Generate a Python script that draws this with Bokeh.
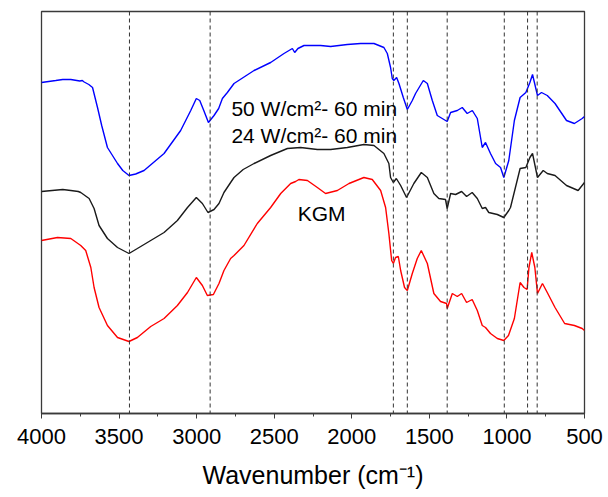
from bokeh.plotting import figure
from bokeh.models import Range1d, SingleIntervalTicker, Span, Label
from bokeh.embed import file_html
from bokeh.resources import INLINE

# FTIR spectra (transmittance, arbitrary units, curves offset)
wn_50w = [4000, 3908, 3863, 3811, 3753, 3737, 3725, 3695, 3671, 3639, 3612, 3575, 3510, 3476,
          3436, 3393, 3339, 3210, 3103, 3038, 3002, 2980, 2954, 2924, 2888, 2858, 2834, 2802,
          2759, 2630, 2523, 2437, 2383, 2368, 2347, 2308, 2201, 2136, 2029, 1943, 1857, 1793,
          1771, 1750, 1739, 1729, 1711, 1696, 1668, 1642, 1610, 1589, 1539, 1513, 1481, 1449,
          1417, 1385, 1363, 1320, 1288, 1256, 1223, 1191, 1159, 1138, 1106, 1073, 1041, 1020,
          988, 952, 915, 878, 852, 835, 803, 777, 740, 690, 616, 565, 515, 500]
t_50w = [331, 333, 334, 334, 332.5, 333, 331.5, 329, 326, 306, 288, 266, 250, 243,
         238, 239.5, 243, 260, 283, 303, 315, 313, 303, 291, 298, 305, 315, 321,
         330, 343, 351, 360, 365, 361, 365, 368, 368, 367, 369, 370, 370, 366,
         360, 346, 335, 333, 336, 330, 316, 304, 313, 320, 333, 330, 313, 298,
         295, 292, 301, 303, 306, 300, 303, 295, 266, 271, 260, 250, 246, 236,
         253, 293, 316, 321, 331, 339, 318, 321, 318, 310, 293, 290, 295, 297]

wn_24w = [4000, 3863, 3811, 3763, 3747, 3693, 3661, 3629, 3575, 3510, 3436, 3382, 3296, 3210,
          3124, 3059, 3002, 2963, 2927, 2888, 2856, 2824, 2781, 2759, 2700, 2630, 2523, 2415, 2330,
          2222, 2136, 2029, 1922, 1857, 1793, 1761, 1750, 1732, 1713, 1685, 1647, 1600, 1552,
          1513, 1471, 1439, 1396, 1385, 1363, 1331, 1292, 1260, 1224, 1191, 1159, 1138, 1117,
          1062, 1020, 988, 977, 915, 878, 852, 835, 803, 766, 740, 690, 616, 541, 500]
t_24w = [222, 224, 223, 222, 221, 215, 205, 188, 175, 166, 160, 165, 173, 181,
         193, 206, 216, 210, 201, 204, 210, 221, 231, 236, 244, 250, 258, 265, 266,
         264, 264, 266, 269, 268, 260, 250, 236, 231, 235, 228, 216, 230, 241,
         236, 220, 215, 214, 205, 220, 219, 222, 217, 221, 215, 205, 206, 201,
         199, 196, 203, 206, 245, 246, 256, 260, 236, 243, 240, 238, 228, 223, 231]

wn_kgm = [4000, 3897, 3811, 3747, 3715, 3682, 3661, 3629, 3575, 3510, 3436, 3382, 3296, 3210,
          3124, 3059, 3002, 2963, 2931, 2892, 2856, 2824, 2781, 2759, 2695, 2609, 2523, 2458,
          2394, 2362, 2341, 2286, 2222, 2169, 2093, 2018, 1922, 1868, 1814, 1782, 1761, 1743,
          1732, 1718, 1700, 1685, 1660, 1642, 1610, 1578, 1552, 1513, 1471, 1428, 1389, 1385,
          1352, 1320, 1292, 1260, 1224, 1191, 1159, 1138, 1106, 1062, 1020, 990, 952, 915,
          890, 870, 858, 840, 820, 803, 771, 740, 690, 628, 565, 515, 500]
t_kgm = [173, 176, 175, 168, 163, 146, 126, 106, 88, 76, 72, 76, 87, 95,
         108, 121, 136, 128, 118, 119, 130, 143, 155, 158, 168, 190, 206, 220,
         230, 232, 234, 233, 226, 220, 223, 230, 236, 234, 223, 206, 180, 153,
         150, 156, 157, 143, 126, 123, 140, 155, 163, 150, 120, 112, 110, 105,
         120, 117, 120, 111, 114, 103, 88, 86, 80, 75, 73, 78, 95, 131,
         126, 124, 146, 161, 146, 120, 130, 121, 106, 90, 88, 85, 83]

peak_positions = [3433, 2913, 1732, 1642, 1385, 1017, 867, 805]

series_labels = ["50 W/cm\u00b2- 60 min", "24 W/cm\u00b2- 60 min", "KGM"]

FONT = "Liberation Sans"

p = figure(width=608, height=497, title=None,
           x_range=Range1d(4000, 500), y_range=Range1d(0, 402),
           output_backend="svg", toolbar_location=None,
           min_border_left=41, min_border_right=24, min_border_top=11, min_border_bottom=84)

p.xgrid.visible = False
p.ygrid.visible = False
p.yaxis.visible = False
p.outline_line_color = "#3a3a3a"
p.outline_line_width = 1.3
p.outline_line_alpha = 1.0
p.background_fill_color = "white"
p.border_fill_color = "white"

ax = p.xaxis[0]
ax.ticker = SingleIntervalTicker(interval=500, num_minor_ticks=2)
ax.axis_line_color = "#3a3a3a"
ax.axis_line_width = 1.3
ax.major_tick_in = 0
ax.major_tick_out = 5
ax.minor_tick_in = 0
ax.minor_tick_out = 3
ax.major_tick_line_color = "#3a3a3a"
ax.minor_tick_line_color = "#3a3a3a"
ax.major_label_text_font = FONT
ax.major_label_text_font_size = "22px"
ax.major_label_text_color = "black"
ax.major_label_standoff = 10
ax.axis_label = "Wavenumber (cm\u207b\u00b9)"
ax.axis_label_text_font = FONT
ax.axis_label_text_font_size = "25px"
ax.axis_label_text_font_style = "normal"
ax.axis_label_text_color = "black"
ax.axis_label_standoff = 14

for w in peak_positions:
    p.add_layout(Span(location=w, dimension="height", line_color="#333333",
                      line_width=1, line_dash="4 3"))

p.line(wn_kgm, t_kgm, line_color="#ff0000", line_width=1.4)
p.line(wn_24w, t_24w, line_color="#1a1a1a", line_width=1.4)
p.line(wn_50w, t_50w, line_color="#0000ff", line_width=1.4)

p.add_layout(Label(x=2776, y=305, text=series_labels[0], text_font=FONT,
                   text_font_size="21px", text_color="black", text_baseline="alphabetic"))
p.add_layout(Label(x=2776, y=278, text=series_labels[1], text_font=FONT,
                   text_font_size="21px", text_color="black", text_baseline="alphabetic"))
p.add_layout(Label(x=2194, y=200, text=series_labels[2], text_font=FONT,
                   text_font_size="21px", text_color="black", text_baseline="alphabetic",
                   text_align="center"))

open("out.html", "w").write(file_html(p, INLINE))
